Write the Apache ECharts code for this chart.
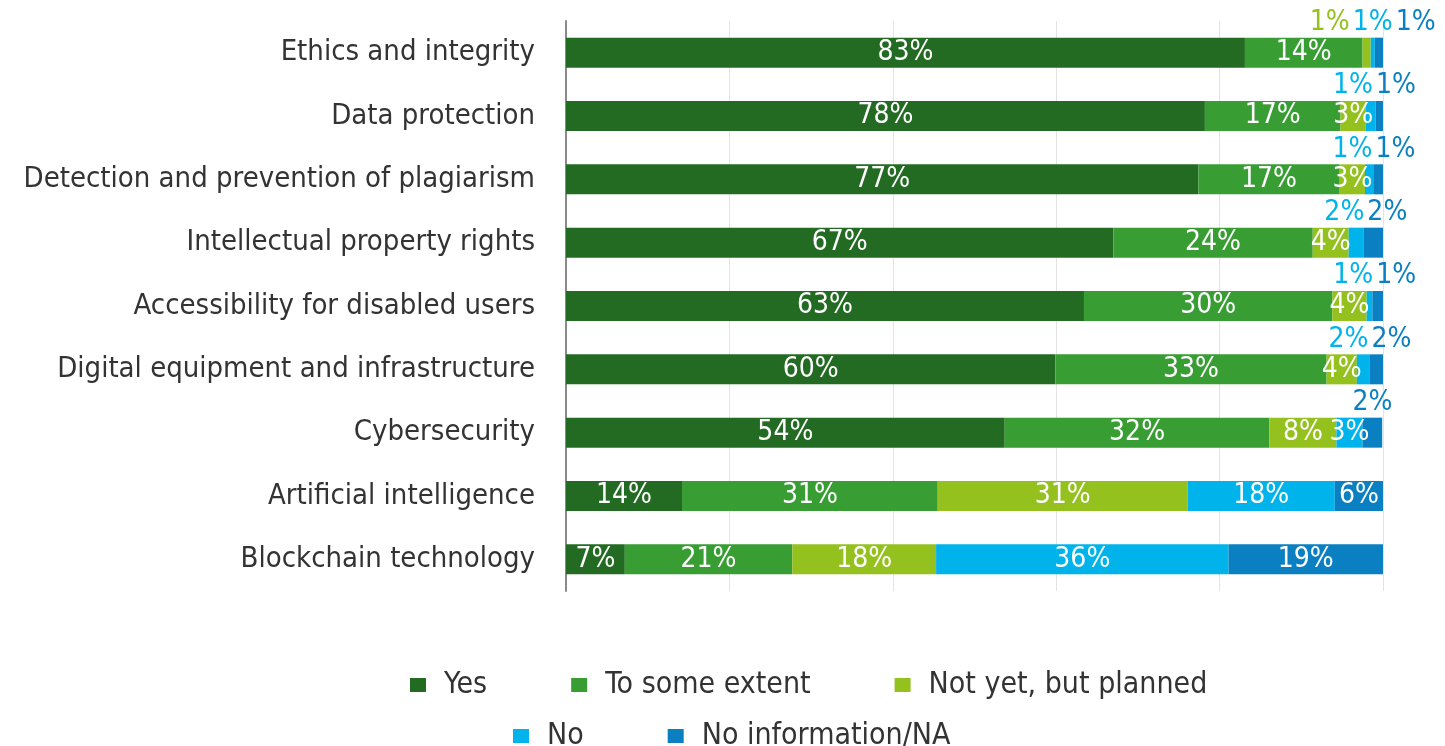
<!DOCTYPE html>
<html>
<head>
<meta charset="utf-8">
<script src="https://cdn.jsdelivr.net/npm/echarts@6/dist/echarts.min.js"></script>
<style>
html,body{margin:0;padding:0;background:#fff;}
#chart{width:1445px;height:746px;}
</style>
</head>
<body>
<div id="chart"></div>
<script>
const categories = ['Ethics and integrity','Data protection','Detection and prevention of plagiarism','Intellectual property rights','Accessibility for disabled users','Digital equipment and infrastructure','Cybersecurity','Artificial intelligence','Blockchain technology'];
const seriesNames = ['Yes','To some extent','Not yet, but planned','No','No information/NA'];
const yesValues     = [83.1, 78.2, 77.4, 67.0, 63.4, 59.9, 53.7, 14.2, 7.2];
const someValues    = [14.4, 16.6, 17.3, 24.4, 30.4, 33.2, 32.4, 31.3, 20.5];
const plannedValues = [1.0, 3.1, 3.1, 4.4, 4.2, 3.7, 8.2, 30.6, 17.6];
const noValues      = [0.5, 1.2, 1.1, 1.8, 0.7, 1.6, 3.2, 18.0, 35.8];
const naValues      = [1.0, 0.9, 1.1, 2.4, 1.3, 1.6, 2.4, 5.9, 18.9];
const xTicks = [0, 20, 40, 60, 80, 100];

const colors = ['#236b22','#389e34','#95c11f','#00b3ea','#0a7fc2'];
const FONT = "'DejaVu Sans Condensed', sans-serif";

const allValues = [yesValues, someValues, plannedValues, noValues, naValues];
const GRID_LEFT = 566, GRID_RIGHT = 62;
const gridWidth = 1445 - GRID_LEFT - GRID_RIGHT;
const pxPerUnit = gridWidth / 100;
const THRESH = 2.5;
const SPREAD = 43;

// build data items with label placement
const seriesData = allValues.map(() => []);
for (let r = 0; r < categories.length; r++) {
  let cum = 0;
  const starts = [];
  for (let s = 0; s < allValues.length; s++) { starts.push(cum); cum += allValues[s][r]; }
  const small = [];
  for (let s = 0; s < allValues.length; s++) if (allValues[s][r] < THRESH) small.push(s);
  let gc = 0;
  if (small.length) {
    const gStart = starts[small[0]];
    const gEnd = starts[small[small.length-1]] + allValues[small[small.length-1]][r];
    gc = (gStart + gEnd) / 2 * pxPerUnit;
  }
  for (let s = 0; s < allValues.length; s++) {
    const v = allValues[s][r];
    const item = { value: v };
    const k = small.indexOf(s);
    if (k >= 0) {
      const labelCenter = gc + (k - (small.length - 1) / 2) * SPREAD;
      const segCenter = (starts[s] + v / 2) * pxPerUnit;
      item.label = { position: 'top', distance: 1, offset: [labelCenter - segCenter, 0], color: colors[s] };
    }
    seriesData[s].push(item);
  }
}

const chart = echarts.init(document.getElementById('chart'));
chart.setOption({
  animation: false,
  textStyle: { fontFamily: FONT },
  grid: { left: GRID_LEFT, right: GRID_RIGHT, top: 21, bottom: 155, containLabel: false },
  xAxis: {
    type: 'value', min: xTicks[0], max: xTicks[xTicks.length-1], interval: 20,
    axisLabel: { show: false }, axisLine: { show: false }, axisTick: { show: false },
    splitLine: { show: true, lineStyle: { color: '#e3e3e3', width: 1 } }
  },
  yAxis: {
    type: 'category', data: categories, inverse: true,
    axisLine: { show: true, lineStyle: { color: '#8a8a8a', width: 2 } },
    axisTick: { show: false },
    axisLabel: { fontSize: 29, color: '#333', margin: 31, fontFamily: FONT }
  },
  legend: [
    { data: seriesNames.slice(0, 3), left: 410, top: 670, padding: 0, itemWidth: 16, itemHeight: 14, itemGap: 84, icon: 'rect',
      textStyle: { fontSize: 30, color: '#333', fontFamily: FONT, padding: [0, 0, 0, 13] } },
    { data: seriesNames.slice(3), left: 513, top: 721, padding: 0, itemWidth: 16, itemHeight: 14, itemGap: 84, icon: 'rect',
      textStyle: { fontSize: 30, color: '#333', fontFamily: FONT, padding: [0, 0, 0, 13] } }
  ],
  series: seriesNames.map((name, s) => ({
    name, type: 'bar', stack: 'total', barWidth: 30,
    itemStyle: { color: colors[s] },
    label: {
      show: true, position: 'inside', color: '#fff', fontSize: 28, fontFamily: FONT,
      formatter: p => Math.round(p.value) + '%'
    },
    data: seriesData[s]
  }))
});
</script>
</body>
</html>
